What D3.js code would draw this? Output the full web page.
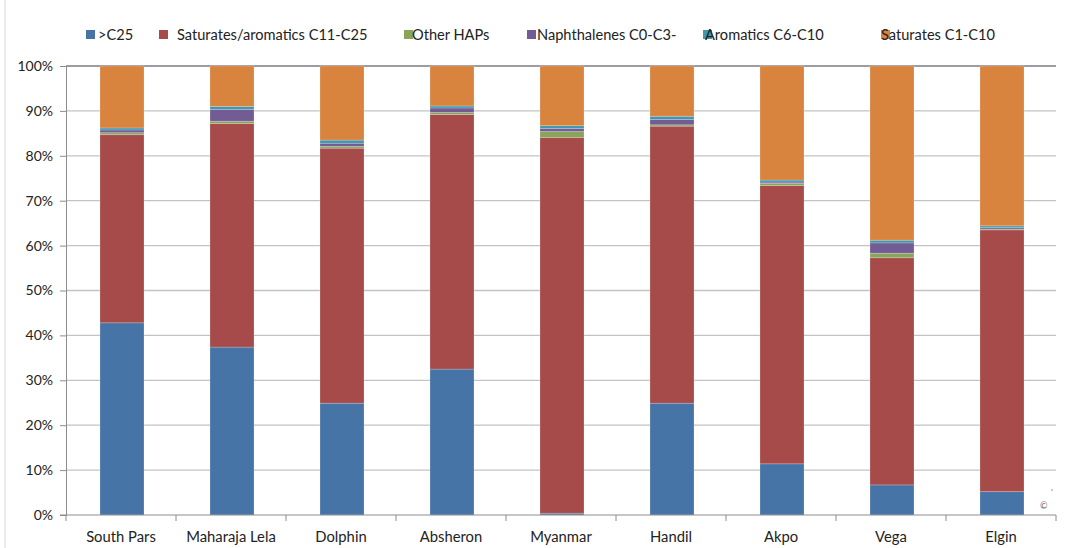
<!DOCTYPE html>
<html>
<head>
<meta charset="utf-8">
<script src="https://cdnjs.cloudflare.com/ajax/libs/d3/7.8.5/d3.min.js"></script>
<style>
  html, body { margin: 0; padding: 0; background: #fff; }
  svg { display: block; font-family: Lato, "Open Sans", sans-serif; }
</style>
</head>
<body>
<svg id="chart" width="1066" height="548"></svg>
<script>
const categories = ["South Pars","Maharaja Lela","Dolphin","Absheron","Myanmar","Handil","Akpo","Vega","Elgin"];
const seriesNames = [">C25","Saturates/aromatics C11-C25","Other HAPs","Naphthalenes C0-C3-","Aromatics C6-C10","Saturates C1-C10"];
const c25       = [42.8, 37.4, 24.9, 32.5, 0.4, 24.9, 11.4, 6.7, 5.2];
const satAroC11 = [41.9, 49.8, 56.8, 56.7, 83.7, 61.7, 62.0, 50.6, 58.3];
const otherHAPs = [0.45, 0.5, 0.4, 0.45, 1.3, 0.3, 0.45, 1.0, 0.2];
const naphthal  = [0.6, 2.6, 0.7, 1.0, 0.7, 1.2, 0.3, 2.3, 0.3];
const aromC6    = [0.45, 0.7, 0.7, 0.45, 0.6, 0.7, 0.45, 0.6, 0.4];
const satC1     = [13.8, 9.0, 16.5, 8.9, 13.3, 11.2, 25.4, 38.8, 35.6];
const yTicks = [0,10,20,30,40,50,60,70,80,90,100];

const colors = ["#4674A7","#A64A4A","#89A55A","#735B93","#3F98AF","#D8843F"];
const seriesValues = [c25, satAroC11, otherHAPs, naphthal, aromC6, satC1];

const rows = categories.map((c, i) => {
  const r = { category: c };
  seriesNames.forEach((s, k) => r[s] = seriesValues[k][i]);
  return r;
});

const svg = d3.select("#chart");
const plotL = 66, plotR = 1056, plotT = 66, plotB = 515;

const x = d3.scaleBand().domain(categories).range([plotL, plotR]).padding(0);
const y = d3.scaleLinear().domain([0, 100]).range([plotB, plotT]);

// left frame line
svg.append("line").attr("x1", 5).attr("x2", 5).attr("y1", 0).attr("y2", 548)
  .attr("stroke", "#d9d9d9").attr("stroke-width", 1);

// gridlines
svg.append("g").selectAll("line").data(yTicks.filter(t => t > 0)).join("line")
  .attr("x1", plotL).attr("x2", plotR)
  .attr("y1", d => y(d)).attr("y2", d => y(d))
  .attr("stroke", d => d === 100 ? "#9c9ca2" : "#c3c3c3")
  .attr("stroke-width", d => d === 100 ? 2 : 1.3);

// stacked bars
const stack = d3.stack().keys(seriesNames);
const stacked = stack(rows);
const barW = x.bandwidth() * 0.4;

svg.append("g").selectAll("g").data(stacked).join("g")
  .attr("fill", (d, i) => colors[i])
  .selectAll("rect").data(d => d).join("rect")
  .attr("x", d => x(d.data.category) + (x.bandwidth() - barW) / 2 + 1)
  .attr("width", barW)
  .attr("y", d => y(d[1]))
  .attr("height", d => Math.max(0, y(d[0]) - y(d[1])))
  .attr("stroke", "rgba(255,255,255,0.25)")
  .attr("stroke-width", 0.8);

// y axis
const yAxis = d3.axisLeft(y).tickValues(yTicks).tickFormat(d => d + "%").tickSize(6).tickPadding(7);
const gy = svg.append("g").attr("transform", `translate(${plotL},0)`).call(yAxis);
gy.select(".domain").attr("stroke", "#8c8c8c");
gy.selectAll(".tick line").attr("stroke", "#8c8c8c");
gy.selectAll(".tick text").attr("font-size", 14).attr("fill", "#222")
  .attr("font-family", "Lato, sans-serif");

// x axis
const gx = svg.append("g").attr("transform", `translate(0,${plotB})`);
gx.append("line").attr("x1", plotL - 6).attr("x2", plotR).attr("y1", 0).attr("y2", 0)
  .attr("stroke", "#8c8c8c");
const boundaries = categories.map(c => x(c)).concat([plotR]);
gx.selectAll("line.tk").data(boundaries).join("line").attr("class", "tk")
  .attr("x1", d => d).attr("x2", d => d).attr("y1", 0).attr("y2", 6)
  .attr("stroke", "#8c8c8c");
gx.selectAll("text").data(categories).join("text")
  .attr("x", d => x(d) + x.bandwidth() / 2)
  .attr("y", 27)
  .attr("text-anchor", "middle")
  .attr("font-size", 14.8)
  .attr("fill", "#222")
  .text(d => d);

// legend
const legSq = [86, 159, 404, 527, 703, 881];
const legTx = [98, 177, 412, 537, 705, 881];
const lg = svg.append("g");
seriesNames.forEach((s, i) => {
  lg.append("rect").attr("x", legSq[i]).attr("y", 30).attr("width", 9).attr("height", 9)
    .attr("fill", colors[i]);
});
seriesNames.forEach((s, i) => {
  lg.append("text").attr("x", legTx[i]).attr("y", 40).attr("font-size", 14.6)
    .attr("fill", "#222").text(s);
});

// small watermark glyph at lower right
svg.append("text").attr("x", 1040).attr("y", 509).attr("font-size", 9).attr("fill", "#666").text("©");
svg.append("line").attr("x1", 1052).attr("x2", 1052).attr("y1", 489).attr("y2", 491).attr("stroke", "#999");
</script>
</body>
</html>
